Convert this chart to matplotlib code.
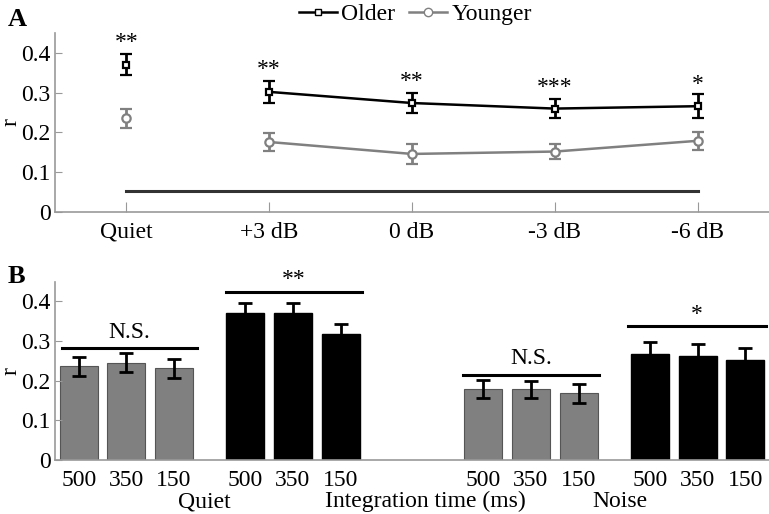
import matplotlib
matplotlib.use("Agg")
import matplotlib.pyplot as plt
import numpy as np
from matplotlib.lines import Line2D

plt.rcParams['font.family'] = ['Liberation Serif', 'DejaVu Serif']

# ---------------- Panel A data ----------------
conditions = ["Quiet", "+3 dB", "0 dB", "-3 dB", "-6 dB"]
older_mean = [0.370, 0.302, 0.274, 0.260, 0.266]
older_err = [0.026, 0.027, 0.026, 0.023, 0.030]
younger_mean = [0.236, 0.176, 0.146, 0.152, 0.179]
younger_err = [0.024, 0.022, 0.025, 0.018, 0.022]
sig_labels_a = ["**", "**", "**", "***", "*"]
sig_y_a = [0.425, 0.357, 0.327, 0.312, 0.321]
chance_level = 0.054

# ---------------- Panel B data ----------------
int_times = ["500", "350", "150"]
quiet_younger = [0.237, 0.246, 0.232]
quiet_younger_err = [0.024, 0.024, 0.024]
quiet_older = [0.370, 0.370, 0.319]
quiet_older_err = [0.026, 0.026, 0.023]
noise_younger = [0.179, 0.178, 0.168]
noise_younger_err = [0.023, 0.022, 0.023]
noise_older = [0.267, 0.263, 0.252]
noise_older_err = [0.031, 0.029, 0.030]
group_sig = ["N.S.", "**", "N.S.", "*"]
group_sig_line_y = [0.282, 0.425, 0.214, 0.337]
group_sig_text_y = [0.322, 0.455, 0.256, 0.368]

GRAY = "#808080"
SPINE = "#999999"
FS = 17

fig = plt.figure(figsize=(7.69, 5.14), dpi=100)

# ---------------- Panel A ----------------
axA = fig.add_axes([0.0715, 0.5875, 0.9285, 0.3483])
x = np.arange(1, len(conditions) + 1)

axA.plot([x[0], x[-1]], [chance_level, chance_level], color="#333333", lw=2.2)

axA.plot(x[1:], older_mean[1:], color="black", lw=1.8, zorder=3)
axA.plot(x[1:], younger_mean[1:], color=GRAY, lw=1.8, zorder=3)
axA.errorbar(x, older_mean, yerr=older_err, fmt="s", color="black", mfc="white",
             mec="black", ms=5, mew=1.6, elinewidth=2, capsize=4, capthick=2, zorder=4)
axA.errorbar(x, younger_mean, yerr=younger_err, fmt="o", color=GRAY, mfc="white",
             mec=GRAY, ms=6, mew=1.6, elinewidth=2, capsize=4, capthick=2, zorder=4)

for xi, lab, yy in zip(x, sig_labels_a, sig_y_a):
    axA.text(xi, yy, lab, ha="center", va="center", fontsize=FS)

axA.set_xlim(0.5, 5.5)
axA.set_ylim(0, 0.45)
axA.set_xticks(x)
axA.set_xticklabels(conditions)
axA.set_yticks([0, 0.1, 0.2, 0.3, 0.4])
axA.set_yticklabels(["0", "0.1", "0.2", "0.3", "0.4"])
axA.set_ylabel("r", fontsize=FS, labelpad=0)
axA.text(-0.066, 1.077, "A", transform=axA.transAxes, fontsize=19, fontweight="bold",
         ha="left", va="center")

h1 = Line2D([], [], color="black", lw=1.8, marker="s", mfc="white", mec="black", ms=5)
h2 = Line2D([], [], color=GRAY, lw=1.8, marker="o", mfc="white", mec=GRAY, ms=6)
axA.legend([h1, h2], ["Older", "Younger"], loc="center", bbox_to_anchor=(0.505, 1.105),
           ncol=2, frameon=False, fontsize=FS, handlelength=1.6, handletextpad=0.2,
           columnspacing=0.6, borderpad=0.1)

# ---------------- Panel B ----------------
axB = fig.add_axes([0.0715, 0.105, 0.9285, 0.347])
pos_qy = np.array([1, 2, 3])
pos_qo = np.array([4.5, 5.5, 6.5])
pos_ny = np.array([9.5, 10.5, 11.5])
pos_no = np.array([13, 14, 15])
w = 0.8
ekw = dict(elinewidth=2, capthick=2, ecolor="black")
axB.bar(pos_qy, quiet_younger, w, color=GRAY, edgecolor="#555555", lw=0.8,
        yerr=quiet_younger_err, capsize=5, error_kw=ekw)
axB.bar(pos_qo, quiet_older, w, color="black", edgecolor="black",
        yerr=quiet_older_err, capsize=5, error_kw=ekw)
axB.bar(pos_ny, noise_younger, w, color=GRAY, edgecolor="#555555", lw=0.8,
        yerr=noise_younger_err, capsize=5, error_kw=ekw)
axB.bar(pos_no, noise_older, w, color="black", edgecolor="black",
        yerr=noise_older_err, capsize=5, error_kw=ekw)

line_spans = [(0.65, 3.49), (4.1, 6.94), (9.07, 11.93), (12.53, 15.43)]
for (x0, x1), ly, ty, lab in zip(line_spans, group_sig_line_y, group_sig_text_y, group_sig):
    axB.plot([x0, x1], [ly, ly], color="black", lw=2.2, clip_on=False)
    axB.text((x0 + x1) / 2, ty, lab, ha="center", va="center", fontsize=FS, clip_on=False)

all_pos = np.concatenate([pos_qy, pos_qo, pos_ny, pos_no])
axB.set_xticks(all_pos)
axB.set_xticklabels(int_times * 4)
axB.tick_params(axis="x", length=0, pad=7)
axB.set_xlim(0.5, 15.5)
axB.set_ylim(0, 0.45)
axB.set_yticks([0, 0.1, 0.2, 0.3, 0.4])
axB.set_yticklabels(["0", "0.1", "0.2", "0.3", "0.4"])
axB.set_ylabel("r", fontsize=FS, labelpad=0)
axB.text(-0.066, 1.03, "B", transform=axB.transAxes, fontsize=19, fontweight="bold",
         ha="left", va="center")

axB.text(3.64, -0.105, "Quiet", ha="center", va="center", fontsize=FS)
axB.text(8.28, -0.105, "Integration time (ms)", ha="center", va="center", fontsize=FS)
axB.text(12.37, -0.105, "Noise", ha="center", va="center", fontsize=FS)

for ax in (axA, axB):
    for s in ("top", "right"):
        ax.spines[s].set_visible(False)
    for s in ("left", "bottom"):
        ax.spines[s].set_color(SPINE)
        ax.spines[s].set_linewidth(1.2)
    ax.tick_params(axis="y", direction="in", length=5, color=SPINE, labelsize=FS, pad=3)
    ax.tick_params(axis="x", labelsize=FS)
axA.tick_params(axis="x", direction="in", length=7, color=SPINE, pad=7)

fig.savefig("out.png", dpi=100)
